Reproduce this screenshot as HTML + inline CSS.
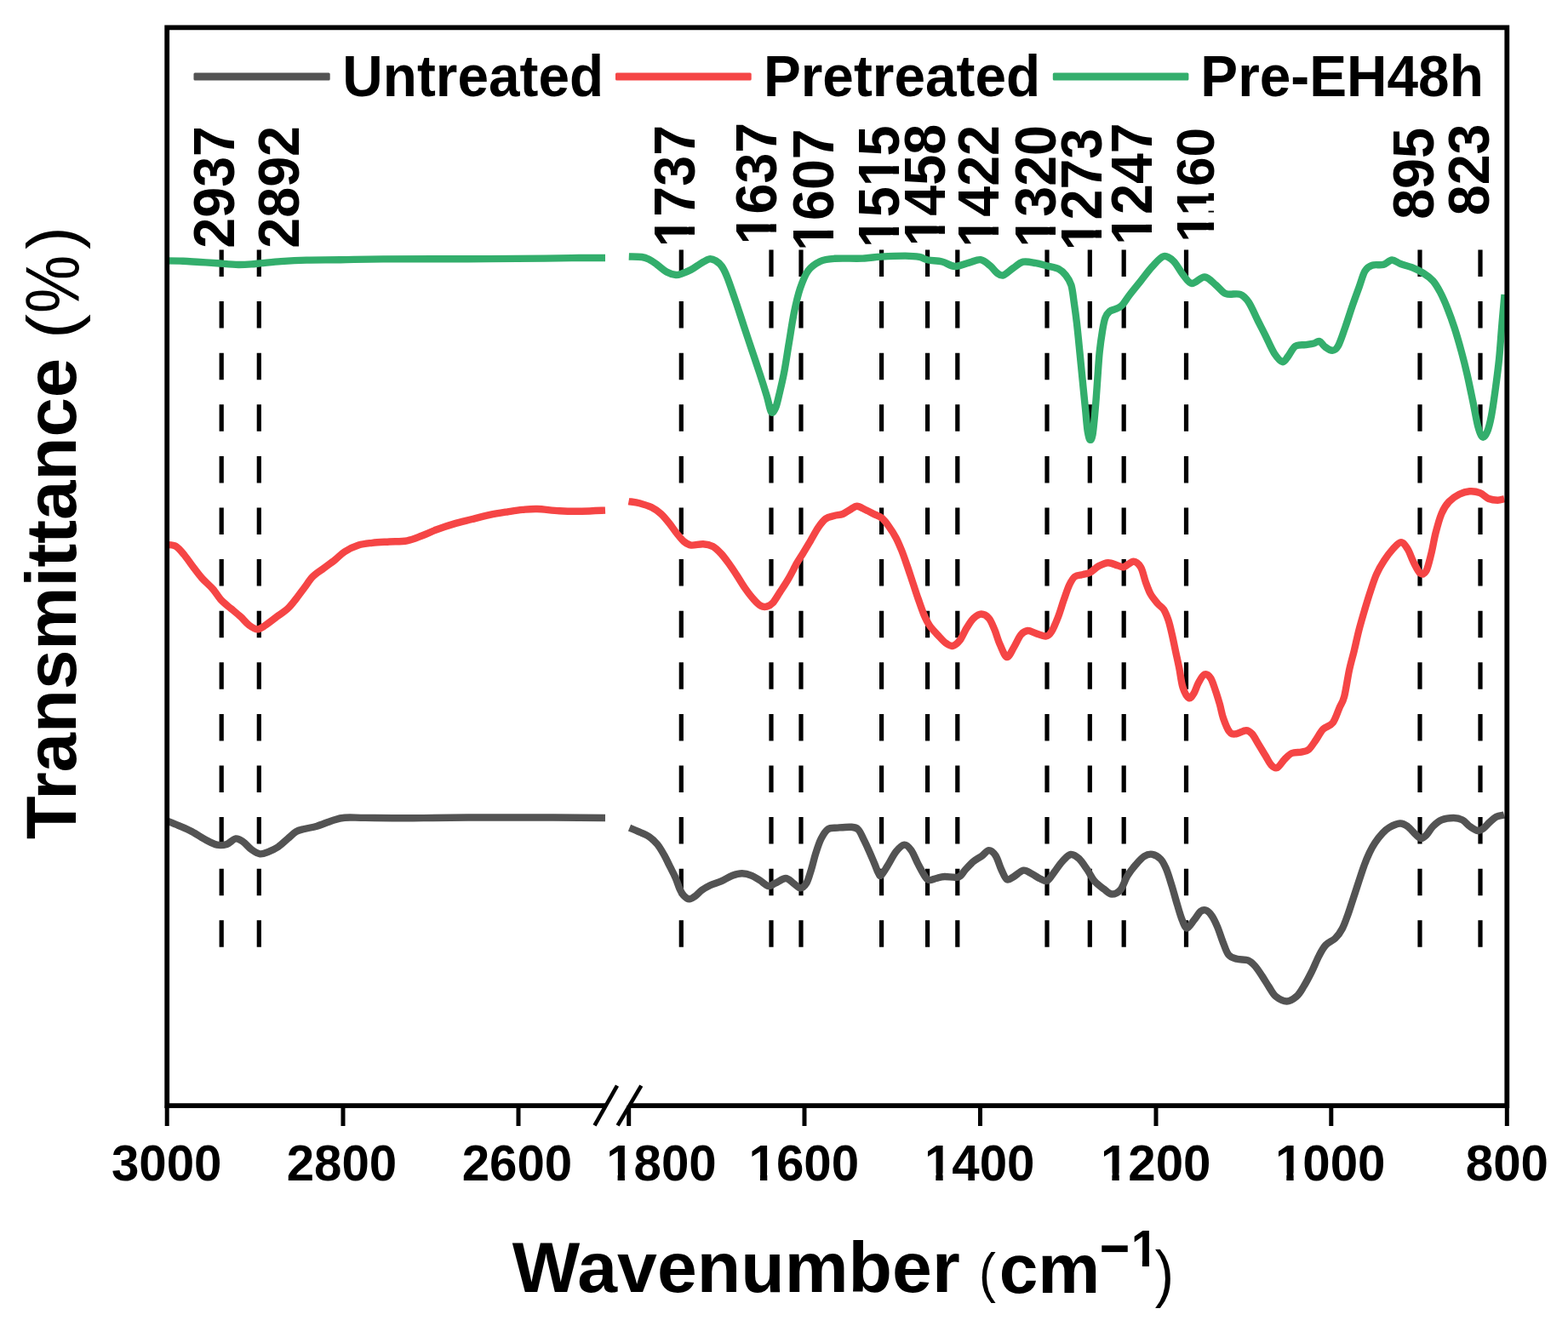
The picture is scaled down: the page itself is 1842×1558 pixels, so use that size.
<!DOCTYPE html>
<html><head><meta charset="utf-8"><title>FTIR spectra</title>
<style>
html,body{margin:0;padding:0;background:#fff;}
body{width:1842px;height:1558px;overflow:hidden;}
svg{display:block;}
.b{font-family:"Liberation Sans",Arial,sans-serif;font-weight:bold;fill:#000;}
.r{font-family:"Liberation Sans",Arial,sans-serif;font-weight:normal;fill:#000;}
</style></head><body>
<svg width="1842" height="1558" viewBox="0 0 1842 1558">
<rect x="0" y="0" width="1842" height="1558" fill="#fff"/>
<defs><mask id="mp1737" maskUnits="userSpaceOnUse" maskContentUnits="userSpaceOnUse" x="-20" y="-78.0" width="184.6" height="104.0"><rect x="-20" y="-78.0" width="184.6" height="104.0" fill="#fff"/><rect x="2.59" y="-9.13" width="12.43" height="12.13" fill="#000"/><rect x="24.24" y="-9.13" width="11.60" height="12.13" fill="#000"/></mask><mask id="mp1637" maskUnits="userSpaceOnUse" maskContentUnits="userSpaceOnUse" x="-20" y="-78.0" width="184.6" height="104.0"><rect x="-20" y="-78.0" width="184.6" height="104.0" fill="#fff"/><rect x="2.59" y="-9.13" width="12.43" height="12.13" fill="#000"/><rect x="24.24" y="-9.13" width="11.60" height="12.13" fill="#000"/></mask><mask id="mp1607" maskUnits="userSpaceOnUse" maskContentUnits="userSpaceOnUse" x="-20" y="-78.0" width="184.6" height="104.0"><rect x="-20" y="-78.0" width="184.6" height="104.0" fill="#fff"/><rect x="2.59" y="-9.13" width="12.43" height="12.13" fill="#000"/><rect x="24.24" y="-9.13" width="11.60" height="12.13" fill="#000"/></mask><mask id="mp1515" maskUnits="userSpaceOnUse" maskContentUnits="userSpaceOnUse" x="-20" y="-78.0" width="184.6" height="104.0"><rect x="-20" y="-78.0" width="184.6" height="104.0" fill="#fff"/><rect x="2.59" y="-9.13" width="12.43" height="12.13" fill="#000"/><rect x="24.24" y="-9.13" width="11.60" height="12.13" fill="#000"/><rect x="74.89" y="-9.13" width="12.43" height="12.13" fill="#000"/><rect x="96.54" y="-9.13" width="11.60" height="12.13" fill="#000"/></mask><mask id="mp1458" maskUnits="userSpaceOnUse" maskContentUnits="userSpaceOnUse" x="-20" y="-78.0" width="184.6" height="104.0"><rect x="-20" y="-78.0" width="184.6" height="104.0" fill="#fff"/><rect x="2.59" y="-9.13" width="12.43" height="12.13" fill="#000"/><rect x="24.24" y="-9.13" width="11.60" height="12.13" fill="#000"/></mask><mask id="mp1422" maskUnits="userSpaceOnUse" maskContentUnits="userSpaceOnUse" x="-20" y="-78.0" width="184.6" height="104.0"><rect x="-20" y="-78.0" width="184.6" height="104.0" fill="#fff"/><rect x="2.59" y="-9.13" width="12.43" height="12.13" fill="#000"/><rect x="24.24" y="-9.13" width="11.60" height="12.13" fill="#000"/></mask><mask id="mp1320" maskUnits="userSpaceOnUse" maskContentUnits="userSpaceOnUse" x="-20" y="-78.0" width="184.6" height="104.0"><rect x="-20" y="-78.0" width="184.6" height="104.0" fill="#fff"/><rect x="2.59" y="-9.13" width="12.43" height="12.13" fill="#000"/><rect x="24.24" y="-9.13" width="11.60" height="12.13" fill="#000"/></mask><mask id="mp1273" maskUnits="userSpaceOnUse" maskContentUnits="userSpaceOnUse" x="-20" y="-78.0" width="184.6" height="104.0"><rect x="-20" y="-78.0" width="184.6" height="104.0" fill="#fff"/><rect x="2.59" y="-9.13" width="12.43" height="12.13" fill="#000"/><rect x="24.24" y="-9.13" width="11.60" height="12.13" fill="#000"/></mask><mask id="mp1247" maskUnits="userSpaceOnUse" maskContentUnits="userSpaceOnUse" x="-20" y="-78.0" width="184.6" height="104.0"><rect x="-20" y="-78.0" width="184.6" height="104.0" fill="#fff"/><rect x="2.59" y="-9.13" width="12.43" height="12.13" fill="#000"/><rect x="24.24" y="-9.13" width="11.60" height="12.13" fill="#000"/></mask><mask id="mp1160" maskUnits="userSpaceOnUse" maskContentUnits="userSpaceOnUse" x="-20" y="-78.0" width="184.6" height="104.0"><rect x="-20" y="-78.0" width="184.6" height="104.0" fill="#fff"/><rect x="2.59" y="-9.13" width="12.43" height="12.13" fill="#000"/><rect x="24.24" y="-9.13" width="11.60" height="12.13" fill="#000"/><rect x="38.74" y="-9.13" width="12.43" height="12.13" fill="#000"/><rect x="60.39" y="-9.13" width="11.60" height="12.13" fill="#000"/></mask><mask id="mt1800" maskUnits="userSpaceOnUse" maskContentUnits="userSpaceOnUse" x="-20" y="-69.6" width="169.0" height="92.8"><rect x="-20" y="-69.6" width="169.0" height="92.8" fill="#fff"/><rect x="2.15" y="-8.42" width="11.23" height="11.42" fill="#000"/><rect x="21.65" y="-8.42" width="10.50" height="11.42" fill="#000"/></mask><mask id="mt1600" maskUnits="userSpaceOnUse" maskContentUnits="userSpaceOnUse" x="-20" y="-69.6" width="169.0" height="92.8"><rect x="-20" y="-69.6" width="169.0" height="92.8" fill="#fff"/><rect x="2.15" y="-8.42" width="11.23" height="11.42" fill="#000"/><rect x="21.65" y="-8.42" width="10.50" height="11.42" fill="#000"/></mask><mask id="mt1400" maskUnits="userSpaceOnUse" maskContentUnits="userSpaceOnUse" x="-20" y="-69.6" width="169.0" height="92.8"><rect x="-20" y="-69.6" width="169.0" height="92.8" fill="#fff"/><rect x="2.15" y="-8.42" width="11.23" height="11.42" fill="#000"/><rect x="21.65" y="-8.42" width="10.50" height="11.42" fill="#000"/></mask><mask id="mt1200" maskUnits="userSpaceOnUse" maskContentUnits="userSpaceOnUse" x="-20" y="-69.6" width="169.0" height="92.8"><rect x="-20" y="-69.6" width="169.0" height="92.8" fill="#fff"/><rect x="2.15" y="-8.42" width="11.23" height="11.42" fill="#000"/><rect x="21.65" y="-8.42" width="10.50" height="11.42" fill="#000"/></mask><mask id="mt1000" maskUnits="userSpaceOnUse" maskContentUnits="userSpaceOnUse" x="-20" y="-69.6" width="169.0" height="92.8"><rect x="-20" y="-69.6" width="169.0" height="92.8" fill="#fff"/><rect x="2.15" y="-8.42" width="11.23" height="11.42" fill="#000"/><rect x="21.65" y="-8.42" width="10.50" height="11.42" fill="#000"/></mask><mask id="mxt5" maskUnits="userSpaceOnUse" maskContentUnits="userSpaceOnUse" x="-20" y="-74.4" width="74.5" height="99.2"><rect x="-20" y="-74.4" width="74.5" height="99.2" fill="#fff"/><rect x="2.41" y="-8.83" width="11.92" height="11.83" fill="#000"/><rect x="23.13" y="-8.83" width="11.13" height="11.83" fill="#000"/></mask></defs>
<line x1="260.2" y1="293.5" x2="260.2" y2="1113.5" stroke="#000" stroke-width="5.2" stroke-dasharray="31.5 29.1"/>
<line x1="304.3" y1="293.5" x2="304.3" y2="1113.5" stroke="#000" stroke-width="5.2" stroke-dasharray="31.5 29.1"/>
<line x1="800.3" y1="293.5" x2="800.3" y2="1113.5" stroke="#000" stroke-width="5.2" stroke-dasharray="31.5 29.1"/>
<line x1="906.0" y1="293.5" x2="906.0" y2="1113.5" stroke="#000" stroke-width="5.2" stroke-dasharray="31.5 29.1"/>
<line x1="941.0" y1="293.5" x2="941.0" y2="1113.5" stroke="#000" stroke-width="5.2" stroke-dasharray="31.5 29.1"/>
<line x1="1035.6" y1="293.5" x2="1035.6" y2="1113.5" stroke="#000" stroke-width="5.2" stroke-dasharray="31.5 29.1"/>
<line x1="1089.6" y1="293.5" x2="1089.6" y2="1113.5" stroke="#000" stroke-width="5.2" stroke-dasharray="31.5 29.1"/>
<line x1="1124.8" y1="293.5" x2="1124.8" y2="1113.5" stroke="#000" stroke-width="5.2" stroke-dasharray="31.5 29.1"/>
<line x1="1230.0" y1="293.5" x2="1230.0" y2="1113.5" stroke="#000" stroke-width="5.2" stroke-dasharray="31.5 29.1"/>
<line x1="1280.3" y1="293.5" x2="1280.3" y2="1113.5" stroke="#000" stroke-width="5.2" stroke-dasharray="31.5 29.1"/>
<line x1="1320.2" y1="293.5" x2="1320.2" y2="1113.5" stroke="#000" stroke-width="5.2" stroke-dasharray="31.5 29.1"/>
<line x1="1393.5" y1="293.5" x2="1393.5" y2="1113.5" stroke="#000" stroke-width="5.2" stroke-dasharray="31.5 29.1"/>
<line x1="1668.0" y1="293.5" x2="1668.0" y2="1113.5" stroke="#000" stroke-width="5.2" stroke-dasharray="31.5 29.1"/>
<line x1="1739.0" y1="293.5" x2="1739.0" y2="1113.5" stroke="#000" stroke-width="5.2" stroke-dasharray="31.5 29.1"/>
<path d="M196.0,964.5C198.2,965.4 204.5,967.8 209.4,969.9C214.3,972.0 220.3,974.4 225.7,977.2C231.1,980.1 237.1,984.4 242.0,987.0C246.9,989.6 250.9,991.9 255.0,992.7C259.1,993.5 262.7,993.1 266.4,991.9C270.1,990.7 273.7,985.8 277.0,985.4C280.3,985.0 282.9,987.2 286.0,989.4C289.1,991.6 292.4,996.1 295.7,998.4C298.9,1000.7 302.2,1002.9 305.5,1003.3C308.8,1003.7 311.8,1002.2 315.3,1000.8C318.8,999.4 322.9,997.7 326.7,995.1C330.5,992.5 334.6,988.4 338.1,985.4C341.6,982.4 344.6,979.1 347.9,977.2C351.1,975.3 353.5,975.1 357.6,974.0C361.7,972.9 366.9,972.3 372.3,970.7C377.7,969.1 384.8,965.9 390.2,964.2C395.6,962.6 398.4,961.3 404.9,960.8C411.4,960.2 415.9,960.8 429.3,960.9C442.7,961.0 464.9,961.3 485.0,961.2C505.1,961.1 522.5,960.6 550.0,960.5C577.5,960.4 623.2,960.4 650.0,960.5C676.8,960.6 700.8,960.9 711.0,961.0" fill="none" stroke="#535353" stroke-width="8.4" stroke-linejoin="round" stroke-linecap="butt"/>
<path d="M739.5,972.6C741.7,973.5 748.9,976.5 752.8,978.3C756.6,980.1 759.4,980.9 762.6,983.2C765.9,985.5 769.3,988.5 772.3,992.1C775.3,995.8 778.0,1000.8 780.5,1005.1C783.0,1009.5 784.8,1013.9 787.0,1018.2C789.2,1022.6 791.6,1026.9 793.5,1031.2C795.4,1035.5 796.8,1040.7 798.4,1044.2C800.0,1047.7 801.4,1050.4 803.3,1052.4C805.2,1054.4 807.6,1056.3 809.8,1056.4C812.0,1056.5 813.8,1055.0 816.3,1053.2C818.8,1051.5 821.5,1048.1 824.5,1045.9C827.5,1043.7 830.4,1042.0 834.2,1040.2C838.0,1038.4 842.9,1037.2 847.3,1035.3C851.6,1033.4 856.2,1030.3 860.3,1028.8C864.4,1027.3 867.9,1026.3 871.7,1026.3C875.5,1026.3 879.6,1027.4 883.1,1028.8C886.6,1030.2 889.6,1032.5 892.9,1034.5C896.1,1036.5 899.6,1040.5 902.6,1041.0C905.6,1041.5 907.4,1039.2 910.8,1037.7C914.2,1036.2 919.5,1032.0 923.0,1032.0C926.5,1032.0 929.1,1035.8 932.0,1037.7C934.9,1039.6 937.5,1043.4 940.1,1043.4C942.7,1043.4 945.2,1041.4 947.4,1037.7C949.6,1034.0 951.3,1027.1 953.1,1021.4C954.9,1015.7 956.1,1009.5 958.0,1003.5C959.9,997.5 962.0,990.5 964.5,985.6C967.0,980.7 969.4,976.4 972.7,974.2C976.0,972.0 979.5,973.0 984.1,972.6C988.7,972.2 996.3,971.4 1000.4,971.8C1004.5,972.2 1006.1,972.4 1008.5,975.0C1010.9,977.6 1012.9,983.0 1015.0,987.2C1017.1,991.4 1019.0,995.5 1021.0,1000.0C1023.0,1004.5 1025.2,1009.8 1027.0,1014.0C1028.8,1018.2 1030.2,1022.6 1031.5,1025.0C1032.8,1027.4 1033.1,1029.8 1035.0,1028.5C1036.9,1027.2 1039.9,1021.6 1042.8,1017.0C1045.7,1012.4 1049.3,1004.8 1052.6,1000.7C1055.8,996.6 1059.3,992.9 1062.3,992.6C1065.3,992.3 1067.8,995.3 1070.5,999.1C1073.2,1002.9 1075.9,1010.2 1078.6,1015.4C1081.3,1020.5 1084.6,1026.9 1086.8,1030.0C1089.0,1033.1 1089.5,1033.8 1091.7,1034.1C1093.9,1034.4 1097.0,1032.7 1100.0,1032.0C1103.0,1031.3 1105.3,1030.2 1109.6,1030.0C1113.9,1029.8 1121.8,1031.8 1125.9,1030.5C1130.0,1029.2 1131.0,1025.0 1134.0,1021.9C1137.0,1018.8 1140.5,1014.8 1143.8,1012.1C1147.1,1009.4 1150.6,1007.8 1153.6,1005.6C1156.6,1003.4 1159.0,999.1 1161.7,999.1C1164.4,999.1 1167.3,1001.8 1169.8,1005.6C1172.2,1009.4 1174.2,1017.3 1176.4,1021.9C1178.6,1026.5 1180.5,1032.0 1182.9,1033.3C1185.3,1034.6 1187.8,1031.8 1191.0,1030.0C1194.2,1028.2 1198.9,1023.2 1202.4,1022.7C1205.9,1022.2 1208.9,1025.2 1212.2,1026.8C1215.5,1028.4 1219.0,1031.2 1222.0,1032.5C1225.0,1033.8 1227.4,1036.1 1230.1,1034.9C1232.8,1033.7 1235.2,1028.9 1238.2,1025.1C1241.2,1021.3 1244.7,1015.6 1248.0,1012.1C1251.3,1008.6 1254.5,1004.5 1257.8,1004.0C1261.1,1003.5 1264.3,1005.9 1267.6,1008.9C1270.8,1011.9 1274.3,1017.6 1277.3,1021.9C1280.3,1026.2 1282.2,1031.1 1285.5,1034.9C1288.8,1038.7 1293.5,1042.1 1296.9,1044.7C1300.3,1047.3 1302.8,1050.4 1306.0,1050.5C1309.2,1050.6 1313.2,1049.0 1316.3,1045.4C1319.4,1041.8 1321.4,1034.0 1324.4,1029.1C1327.4,1024.2 1330.9,1019.9 1334.2,1016.1C1337.5,1012.3 1340.8,1008.3 1344.0,1006.3C1347.2,1004.2 1350.5,1003.3 1353.7,1003.8C1357.0,1004.3 1360.8,1006.6 1363.5,1009.5C1366.2,1012.4 1367.8,1015.7 1370.0,1020.9C1372.2,1026.1 1374.3,1033.4 1376.5,1040.5C1378.7,1047.6 1381.0,1056.5 1383.1,1063.3C1385.1,1070.1 1386.9,1076.7 1388.8,1081.2C1390.7,1085.7 1392.2,1090.5 1394.5,1090.5C1396.8,1090.5 1399.9,1084.5 1402.6,1081.2C1405.3,1077.9 1408.2,1072.5 1410.7,1070.6C1413.2,1068.7 1415.1,1068.8 1417.3,1069.8C1419.5,1070.8 1421.6,1073.0 1423.8,1076.3C1426.0,1079.5 1428.1,1084.1 1430.3,1089.3C1432.5,1094.5 1434.6,1101.9 1436.8,1107.3C1439.0,1112.7 1440.6,1118.7 1443.3,1121.9C1446.0,1125.2 1449.3,1125.7 1453.1,1126.8C1456.9,1127.9 1462.6,1127.0 1466.1,1128.4C1469.6,1129.8 1471.6,1132.0 1474.3,1135.0C1477.0,1138.0 1479.7,1142.3 1482.4,1146.4C1485.1,1150.5 1487.9,1155.3 1490.6,1159.4C1493.3,1163.5 1495.2,1168.0 1498.7,1170.8C1502.2,1173.6 1507.6,1176.5 1511.7,1176.5C1515.8,1176.5 1519.8,1173.6 1523.1,1170.8C1526.4,1168.0 1528.3,1164.3 1531.3,1159.4C1534.3,1154.5 1538.0,1147.5 1541.0,1141.5C1544.0,1135.5 1546.5,1128.8 1549.2,1123.6C1551.9,1118.4 1554.0,1114.0 1557.3,1110.5C1560.5,1107.0 1565.4,1105.7 1568.7,1102.4C1572.0,1099.2 1574.5,1095.6 1576.9,1091.0C1579.4,1086.4 1581.2,1080.7 1583.4,1074.7C1585.6,1068.7 1586.7,1064.7 1589.9,1055.1C1593.1,1045.5 1599.2,1026.2 1602.4,1017.3C1605.6,1008.4 1606.7,1006.4 1608.8,1001.9C1610.9,997.4 1612.6,994.1 1615.2,990.3C1617.8,986.4 1621.4,981.8 1624.2,978.8C1627.0,975.8 1628.5,974.2 1631.9,972.3C1635.3,970.4 1641.1,967.7 1644.7,967.5C1648.3,967.3 1650.7,969.0 1653.7,971.1C1656.7,973.2 1660.1,977.8 1662.7,980.1C1665.3,982.4 1667.0,984.8 1669.1,985.0C1671.2,985.2 1673.2,983.6 1675.5,981.3C1677.8,979.0 1680.2,974.1 1683.2,971.1C1686.2,968.1 1689.4,965.1 1693.5,963.4C1697.6,961.7 1703.5,961.0 1707.6,961.0C1711.7,961.0 1714.7,961.7 1717.9,963.4C1721.1,965.1 1723.9,969.0 1726.9,971.1C1729.9,973.2 1733.3,975.6 1735.9,976.0C1738.5,976.4 1740.0,975.3 1742.3,973.6C1744.6,971.9 1747.4,968.3 1750.0,966.0C1752.6,963.7 1754.9,961.2 1757.7,959.8C1760.5,958.4 1765.5,957.9 1767.0,957.5" fill="none" stroke="#535353" stroke-width="8.4" stroke-linejoin="round" stroke-linecap="butt"/>
<path d="M196.0,640.0C197.7,640.3 202.9,639.8 206.2,641.7C209.5,643.6 212.8,647.6 216.0,651.4C219.2,655.2 222.2,659.9 225.7,664.5C229.2,669.1 233.0,674.5 237.1,679.1C241.2,683.7 246.3,687.8 250.1,692.1C253.9,696.5 256.4,701.4 259.9,705.2C263.4,709.0 267.5,711.8 271.3,715.0C275.1,718.2 279.2,721.5 282.7,724.7C286.2,728.0 289.2,732.0 292.5,734.5C295.8,737.0 299.1,739.4 302.3,739.4C305.6,739.4 308.2,737.0 312.0,734.5C315.8,732.0 320.8,728.0 325.1,724.7C329.5,721.5 334.3,718.5 338.1,715.0C341.9,711.5 344.6,707.6 347.9,703.5C351.1,699.4 354.4,694.8 357.6,690.5C360.9,686.2 363.6,681.3 367.4,677.5C371.2,673.7 376.0,671.0 380.4,667.7C384.8,664.4 389.4,661.1 393.5,657.9C397.6,654.6 400.3,651.1 404.9,648.2C409.5,645.3 415.8,642.2 421.2,640.5C426.6,638.8 431.4,638.5 437.4,637.8C443.4,637.1 450.6,636.9 457.4,636.5C464.2,636.1 471.8,636.5 478.2,635.3C484.6,634.1 489.8,631.7 495.6,629.5C501.4,627.3 506.6,624.6 513.0,622.3C519.4,619.9 526.8,617.4 533.8,615.4C540.8,613.4 547.8,611.8 554.7,610.0C561.7,608.2 568.5,606.4 575.5,604.9C582.5,603.4 590.0,602.3 596.4,601.3C602.8,600.3 607.9,599.4 613.7,598.9C619.5,598.4 623.9,597.8 631.1,598.0C638.4,598.2 648.5,599.8 657.2,600.2C665.9,600.7 674.2,600.8 683.2,600.7C692.2,600.6 706.4,599.8 711.0,599.6" fill="none" stroke="#f54545" stroke-width="8.4" stroke-linejoin="round" stroke-linecap="butt"/>
<path d="M738.5,589.1C740.6,589.5 746.7,590.0 751.2,591.2C755.7,592.4 761.1,594.0 765.3,596.1C769.5,598.2 773.1,600.7 776.6,603.9C780.1,607.1 783.5,611.4 786.5,615.2C789.5,619.0 792.1,623.0 794.9,626.5C797.7,630.0 800.6,633.9 803.4,636.3C806.2,638.6 808.1,640.1 811.9,640.6C815.7,641.1 821.8,639.0 826.0,639.2C830.2,639.4 833.8,640.1 837.3,642.0C840.8,643.9 843.8,647.0 847.1,650.5C850.4,654.0 853.9,659.0 857.0,663.2C860.1,667.4 862.4,671.2 865.5,675.9C868.6,680.6 872.1,686.7 875.4,691.4C878.7,696.1 882.2,700.7 885.3,704.1C888.3,707.5 891.1,710.4 893.7,711.8C896.3,713.2 898.4,713.2 900.8,712.6C903.1,712.0 905.2,711.1 907.8,708.3C910.4,705.5 913.2,700.3 916.3,695.6C919.4,690.9 922.9,685.8 926.2,680.1C929.5,674.5 933.3,666.6 936.1,661.7C938.9,656.8 940.5,654.7 943.1,650.5C945.7,646.3 948.5,641.5 951.6,636.3C954.7,631.1 958.4,623.9 961.5,619.4C964.6,614.9 966.9,611.7 970.0,609.5C973.1,607.3 976.7,606.9 980.0,606.0C983.3,605.1 986.9,605.2 990.0,604.0C993.1,602.8 995.6,600.5 998.4,599.0C1001.2,597.5 1003.8,594.7 1006.8,594.7C1009.8,594.7 1013.4,597.5 1016.7,599.0C1020.0,600.5 1023.3,602.3 1026.6,604.0C1029.9,605.7 1033.3,606.6 1036.3,609.1C1039.3,611.6 1041.7,615.1 1044.4,618.9C1047.1,622.7 1050.1,627.3 1052.6,631.9C1055.0,636.5 1056.9,641.1 1059.1,646.5C1061.3,651.9 1063.4,658.2 1065.6,664.5C1067.8,670.8 1069.9,677.5 1072.1,684.0C1074.3,690.5 1076.4,697.2 1078.6,703.5C1080.8,709.8 1082.9,716.3 1085.1,721.5C1087.3,726.7 1089.0,730.4 1091.7,734.5C1094.4,738.6 1098.2,742.4 1101.4,745.9C1104.7,749.4 1108.2,753.5 1111.2,755.7C1114.2,757.9 1116.6,759.5 1119.3,758.9C1122.0,758.3 1124.8,755.9 1127.5,752.4C1130.2,748.9 1132.9,742.1 1135.6,737.8C1138.3,733.5 1140.9,729.1 1143.8,726.4C1146.7,723.7 1149.7,721.5 1152.7,721.5C1155.7,721.5 1159.1,723.4 1161.7,726.4C1164.3,729.4 1166.0,734.2 1168.2,739.4C1170.4,744.5 1172.2,751.9 1174.7,757.3C1177.2,762.7 1180.2,771.5 1182.9,772.0C1185.6,772.5 1188.3,765.0 1191.0,760.6C1193.7,756.2 1196.5,749.2 1199.2,745.9C1201.9,742.6 1204.3,741.3 1207.3,741.0C1210.3,740.7 1213.6,743.2 1217.1,744.3C1220.6,745.4 1225.5,747.8 1228.5,747.5C1231.5,747.2 1232.6,746.4 1235.0,742.6C1237.4,738.8 1240.7,730.9 1243.1,724.7C1245.5,718.5 1247.4,711.4 1249.6,705.2C1251.8,699.0 1254.0,691.9 1256.2,687.3C1258.4,682.7 1260.0,679.5 1262.7,677.5C1265.4,675.5 1269.4,675.8 1272.4,675.0C1275.4,674.2 1277.6,674.2 1280.6,672.6C1283.6,671.0 1286.9,667.2 1290.4,665.3C1293.9,663.4 1298.0,661.3 1301.8,661.2C1305.6,661.1 1310.1,663.7 1313.2,664.5C1316.3,665.3 1317.3,666.9 1320.4,666.1C1323.5,665.3 1328.4,659.6 1331.7,659.7C1335.0,659.8 1337.9,662.7 1340.2,666.7C1342.5,670.7 1343.9,678.5 1345.8,683.7C1347.7,688.9 1349.2,693.6 1351.5,697.8C1353.8,702.0 1357.3,706.0 1359.9,709.1C1362.5,712.2 1364.9,712.8 1367.0,716.1C1369.1,719.4 1370.9,724.0 1372.6,728.9C1374.2,733.8 1375.5,739.7 1376.9,745.8C1378.3,751.9 1379.7,759.0 1381.1,765.6C1382.5,772.2 1383.9,778.2 1385.3,785.3C1386.7,792.3 1387.7,802.1 1389.6,807.9C1391.5,813.7 1394.5,818.8 1396.6,820.0C1398.7,821.2 1400.4,818.0 1402.3,815.0C1404.2,812.0 1405.8,806.1 1407.9,802.3C1410.0,798.5 1412.6,793.3 1415.0,792.4C1417.4,791.5 1420.0,793.5 1422.1,796.6C1424.2,799.7 1425.9,805.7 1427.7,810.8C1429.5,815.9 1431.2,821.6 1432.8,827.1C1434.4,832.6 1435.2,838.6 1437.1,844.0C1439.0,849.4 1441.8,856.5 1444.1,859.6C1446.4,862.7 1447.9,862.6 1451.2,862.4C1454.5,862.2 1460.6,858.2 1463.9,858.2C1467.2,858.2 1468.7,859.8 1471.0,862.4C1473.3,865.0 1475.4,869.5 1478.0,873.7C1480.6,877.9 1483.9,883.6 1486.5,887.8C1489.1,892.0 1491.2,896.8 1493.6,899.1C1495.9,901.5 1498.0,903.1 1500.6,901.9C1503.2,900.7 1506.3,894.9 1509.1,892.1C1511.9,889.3 1514.3,886.4 1517.6,885.0C1520.9,883.6 1525.6,884.3 1528.9,883.6C1532.2,882.9 1534.5,883.1 1537.3,880.8C1540.1,878.4 1543.0,873.5 1545.8,869.5C1548.6,865.5 1551.0,860.2 1554.3,856.8C1557.6,853.4 1562.5,853.4 1565.7,849.2C1568.9,845.0 1571.2,836.9 1573.4,831.8C1575.7,826.6 1577.3,825.7 1579.2,818.3C1581.1,810.9 1583.1,796.5 1585.0,787.5C1586.9,778.5 1588.9,772.3 1590.8,764.4C1592.7,756.5 1594.4,748.1 1596.5,740.0C1598.6,731.9 1601.0,723.8 1603.3,716.0C1605.6,708.2 1608.0,700.4 1610.3,693.5C1612.6,686.6 1614.6,680.2 1617.2,674.4C1619.8,668.6 1622.7,663.7 1625.9,658.8C1629.1,653.9 1633.0,648.6 1636.3,645.0C1639.6,641.4 1642.9,637.2 1645.8,637.2C1648.7,637.2 1651.1,641.1 1653.6,645.0C1656.1,648.9 1658.1,655.8 1660.6,660.6C1663.1,665.4 1666.0,671.9 1668.4,673.6C1670.9,675.3 1673.1,674.9 1675.3,671.0C1677.5,667.1 1679.5,657.7 1681.4,650.2C1683.3,642.7 1684.6,633.7 1686.6,625.9C1688.6,618.1 1690.9,609.4 1693.5,603.3C1696.1,597.2 1698.7,593.2 1702.2,589.5C1705.7,585.8 1710.3,582.8 1714.3,580.8C1718.3,578.8 1722.4,577.6 1726.4,577.3C1730.5,577.0 1734.8,577.6 1738.6,579.1C1742.4,580.6 1745.5,584.6 1749.0,586.0C1752.5,587.4 1756.4,587.7 1759.4,587.7C1762.4,587.7 1765.9,586.3 1767.2,586.0" fill="none" stroke="#f54545" stroke-width="8.4" stroke-linejoin="round" stroke-linecap="butt"/>
<path d="M196.0,306.4C199.2,306.4 208.5,306.4 215.0,306.7C221.5,307.0 228.3,307.6 235.0,308.0C241.7,308.4 247.5,308.8 255.0,309.3C262.5,309.8 272.5,310.9 280.0,311.0C287.5,311.1 291.7,310.6 300.0,310.0C308.3,309.4 320.0,307.8 330.0,307.1C340.0,306.4 348.3,305.9 360.0,305.6C371.7,305.3 385.0,305.4 400.0,305.2C415.0,305.0 425.0,304.6 450.0,304.4C475.0,304.2 518.3,304.3 550.0,304.2C581.7,304.1 618.3,303.8 640.0,303.6C661.7,303.4 668.2,303.1 680.0,303.0C691.8,302.9 705.8,303.0 711.0,303.0" fill="none" stroke="#33ae6c" stroke-width="8.4" stroke-linejoin="round" stroke-linecap="butt"/>
<path d="M738.8,301.5C741.3,301.6 750.1,301.5 754.0,302.0C757.9,302.5 759.1,303.1 762.0,304.5C764.9,305.9 767.8,308.0 771.3,310.5C774.8,313.0 779.3,317.4 783.1,319.5C786.9,321.6 791.0,322.7 794.0,323.0C797.0,323.3 798.1,322.5 801.0,321.5C803.9,320.5 807.9,319.0 811.6,317.0C815.4,315.0 819.9,311.4 823.5,309.3C827.1,307.2 830.6,304.8 833.5,304.3C836.4,303.8 838.6,305.1 841.0,306.5C843.4,307.9 845.8,309.8 848.0,313.0C850.2,316.2 851.8,319.3 854.4,326.0C857.0,332.7 860.7,343.7 863.9,353.0C867.1,362.3 870.2,372.2 873.4,381.8C876.6,391.4 879.7,400.8 882.9,410.3C886.1,419.8 889.4,429.7 892.4,438.8C895.4,447.9 898.4,457.4 900.7,464.9C903.0,472.4 904.3,481.6 906.0,484.0C907.7,486.4 909.5,482.7 911.0,479.5C912.5,476.3 913.4,471.8 915.0,465.0C916.6,458.2 918.9,449.1 920.9,438.8C922.9,428.5 924.8,415.1 926.8,403.2C928.8,391.3 930.6,378.2 932.8,367.5C935.0,356.8 937.1,347.2 939.9,339.0C942.7,330.8 945.4,323.3 949.4,318.0C953.4,312.7 958.6,309.4 963.7,307.0C968.9,304.6 972.0,304.4 980.3,303.8C988.6,303.2 1004.3,304.0 1013.4,303.6C1022.5,303.2 1026.7,302.1 1035.0,301.6C1043.3,301.1 1055.9,300.6 1063.4,300.6C1070.9,300.7 1075.6,301.1 1080.1,301.9C1084.5,302.7 1085.6,304.6 1090.1,305.5C1094.5,306.4 1101.5,306.2 1106.8,307.5C1112.1,308.8 1116.5,312.8 1121.8,313.0C1127.1,313.2 1133.5,309.9 1138.5,308.6C1143.5,307.3 1147.7,304.6 1151.9,305.2C1156.1,305.8 1160.3,309.9 1163.5,312.5C1166.7,315.1 1168.5,318.7 1171.0,320.5C1173.5,322.3 1175.4,324.3 1178.6,323.4C1181.8,322.5 1186.3,317.6 1190.2,315.0C1194.1,312.4 1197.5,308.7 1201.9,307.7C1206.4,306.7 1212.2,308.4 1216.9,309.2C1221.6,310.0 1225.8,311.4 1230.3,312.5C1234.8,313.6 1240.0,314.2 1243.6,316.0C1247.2,317.8 1249.5,320.2 1252.0,323.4C1254.5,326.6 1256.8,329.7 1258.4,335.0C1260.0,340.3 1260.6,347.6 1261.7,355.1C1262.8,362.6 1263.9,370.4 1265.0,380.1C1266.1,389.8 1267.3,402.4 1268.4,413.5C1269.5,424.6 1270.6,435.8 1271.7,446.9C1272.8,458.0 1274.0,470.5 1275.0,480.2C1276.0,489.9 1276.6,499.2 1277.5,505.3C1278.4,511.4 1279.2,515.5 1280.2,516.5C1281.2,517.5 1282.4,517.0 1283.5,511.0C1284.6,504.9 1285.8,490.9 1286.7,480.2C1287.7,469.5 1288.4,458.0 1289.2,446.9C1290.0,435.8 1290.7,423.2 1291.7,413.5C1292.7,403.8 1294.0,395.2 1295.1,388.5C1296.2,381.8 1297.0,377.2 1298.4,373.4C1299.8,369.6 1301.2,367.7 1303.4,365.9C1305.6,364.1 1309.3,363.9 1311.8,362.6C1314.3,361.4 1315.9,361.0 1318.4,358.4C1320.9,355.8 1323.2,351.4 1326.8,346.7C1330.4,342.0 1335.6,335.7 1340.1,330.1C1344.5,324.6 1349.0,318.2 1353.5,313.4C1358.0,308.6 1362.6,302.3 1366.8,301.2C1371.0,300.1 1374.6,303.0 1378.5,306.7C1382.4,310.4 1386.6,319.0 1390.2,323.4C1393.8,327.8 1396.0,332.6 1400.2,333.0C1404.4,333.4 1410.5,325.1 1415.2,325.5C1419.9,325.9 1424.4,331.8 1428.6,335.1C1432.8,338.4 1435.5,343.3 1440.2,345.1C1444.9,346.9 1452.5,344.2 1456.9,345.9C1461.4,347.6 1463.6,350.2 1466.9,355.1C1470.2,360.0 1473.6,368.4 1476.9,375.1C1480.2,381.8 1483.7,388.4 1487.0,395.1C1490.3,401.8 1493.7,410.2 1497.0,415.2C1500.3,420.2 1504.0,424.6 1506.7,425.2C1509.4,425.8 1510.8,421.6 1513.3,418.5C1515.8,415.4 1518.3,409.0 1521.7,406.8C1525.1,404.6 1529.8,405.7 1533.4,405.1C1537.0,404.6 1540.6,404.2 1543.4,403.5C1546.2,402.8 1547.8,400.3 1550.0,401.0C1552.2,401.7 1554.2,405.8 1556.7,407.6C1559.2,409.4 1562.6,411.9 1565.1,411.8C1567.6,411.7 1569.3,411.2 1571.8,406.8C1574.3,402.4 1577.3,392.9 1580.1,385.1C1582.9,377.3 1585.6,368.2 1588.4,360.1C1591.2,352.0 1594.3,343.6 1596.8,336.7C1599.3,329.8 1601.0,322.6 1603.5,318.4C1606.0,314.2 1608.2,312.9 1611.8,311.7C1615.4,310.4 1621.2,311.9 1625.1,310.9C1629.0,309.9 1631.8,305.6 1635.2,305.5C1638.6,305.4 1641.3,308.6 1645.2,310.0C1649.1,311.4 1654.0,312.4 1658.5,314.2C1663.0,316.0 1667.7,318.2 1671.9,320.9C1676.1,323.5 1680.2,326.4 1683.5,330.1C1686.8,333.9 1689.1,338.1 1691.9,343.4C1694.7,348.7 1697.4,354.9 1700.2,361.8C1703.0,368.8 1705.8,376.5 1708.6,385.1C1711.4,393.7 1714.4,404.3 1716.9,413.5C1719.4,422.7 1721.4,430.5 1723.6,440.2C1725.8,449.9 1728.2,461.8 1730.3,471.9C1732.4,481.9 1734.3,493.6 1736.1,500.5C1737.9,507.4 1739.5,512.1 1741.3,513.3C1743.1,514.5 1745.2,511.6 1747.0,507.5C1748.8,503.4 1750.3,497.3 1752.0,488.6C1753.7,479.9 1755.5,466.3 1757.0,455.2C1758.5,444.1 1759.8,434.3 1761.1,421.8C1762.3,409.3 1763.4,392.6 1764.5,380.0C1765.6,367.4 1767.0,351.7 1767.5,346.0" fill="none" stroke="#33ae6c" stroke-width="8.4" stroke-linejoin="round" stroke-linecap="butt"/>
<path d="M196.2,1299.1 L196.2,32.4 L1770.3,32.4 L1770.3,1299.1" fill="none" stroke="#000" stroke-width="5.8" stroke-linejoin="miter" stroke-linecap="square"/>
<line x1="196.2" y1="1299.1" x2="711" y2="1299.1" stroke="#000" stroke-width="5.8"/>
<line x1="740" y1="1299.1" x2="1770.3" y2="1299.1" stroke="#000" stroke-width="5.8"/>
<line x1="698.5" y1="1322.4" x2="725" y2="1275.7" stroke="#000" stroke-width="4.6"/>
<line x1="725.6" y1="1322.4" x2="753.3" y2="1275.7" stroke="#000" stroke-width="4.6"/>
<line x1="196.2" y1="1299.1" x2="196.2" y2="1323" stroke="#000" stroke-width="5"/>
<line x1="403.0" y1="1299.1" x2="403.0" y2="1323" stroke="#000" stroke-width="5"/>
<line x1="609.0" y1="1299.1" x2="609.0" y2="1323" stroke="#000" stroke-width="5"/>
<line x1="738.7" y1="1299.1" x2="738.7" y2="1323" stroke="#000" stroke-width="5"/>
<line x1="945.0" y1="1299.1" x2="945.0" y2="1323" stroke="#000" stroke-width="5"/>
<line x1="1151.5" y1="1299.1" x2="1151.5" y2="1323" stroke="#000" stroke-width="5"/>
<line x1="1358.0" y1="1299.1" x2="1358.0" y2="1323" stroke="#000" stroke-width="5"/>
<line x1="1563.8" y1="1299.1" x2="1563.8" y2="1323" stroke="#000" stroke-width="5"/>
<line x1="1770.3" y1="1299.1" x2="1770.3" y2="1323" stroke="#000" stroke-width="5"/>
<text transform="translate(275.35,291.73) rotate(-90) scale(0.9942,1.0400)" class="b" font-size="65">2937</text>
<text transform="translate(350.90,291.73) rotate(-90) scale(0.9942,1.0400)" class="b" font-size="65">2892</text>
<text transform="translate(816.45,290.58) rotate(-90) scale(0.9942,1.0400)" class="b" font-size="65" mask="url(#mp1737)">1737</text>
<text transform="translate(912.05,287.48) rotate(-90) scale(0.9942,1.0400)" class="b" font-size="65" mask="url(#mp1637)">1637</text>
<text transform="translate(978.50,294.98) rotate(-90) scale(0.9942,1.0400)" class="b" font-size="65" mask="url(#mp1607)">1607</text>
<text transform="translate(1055.70,291.22) rotate(-90) scale(0.9942,1.0400)" class="b" font-size="65" mask="url(#mp1515)">1515</text>
<text transform="translate(1110.00,289.62) rotate(-90) scale(0.9942,1.0400)" class="b" font-size="65" mask="url(#mp1458)">1458</text>
<text transform="translate(1173.05,290.73) rotate(-90) scale(0.9942,1.0400)" class="b" font-size="65" mask="url(#mp1422)">1422</text>
<text transform="translate(1240.25,290.73) rotate(-90) scale(0.9942,1.0400)" class="b" font-size="65" mask="url(#mp1320)">1320</text>
<text transform="translate(1293.90,294.43) rotate(-90) scale(0.9942,1.0400)" class="b" font-size="65" mask="url(#mp1273)">1273</text>
<text transform="translate(1352.60,287.98) rotate(-90) scale(0.9942,1.0400)" class="b" font-size="65" mask="url(#mp1247)">1247</text>
<text transform="translate(1425.90,284.73) rotate(-90) scale(0.9567,0.9644)" class="b" font-size="65" mask="url(#mp1160)">1160</text>
<text transform="translate(1684.35,257.83) rotate(-90) scale(0.9942,1.0400)" class="b" font-size="65">895</text>
<text transform="translate(1749.30,253.24) rotate(-90) scale(0.9942,1.0400)" class="b" font-size="65">823</text>
<text transform="translate(130.94,1386.90) scale(1.0041,1.0325)" class="b" font-size="58">3000</text>
<text transform="translate(336.64,1386.90) scale(1.0041,1.0325)" class="b" font-size="58">2800</text>
<text transform="translate(542.69,1386.90) scale(1.0041,1.0325)" class="b" font-size="58">2600</text>
<text transform="translate(712.18,1386.90) scale(1.0041,1.0325)" class="b" font-size="58" mask="url(#mt1800)">1800</text>
<text transform="translate(879.53,1386.90) scale(1.0041,1.0325)" class="b" font-size="58" mask="url(#mt1600)">1600</text>
<text transform="translate(1085.93,1386.90) scale(1.0041,1.0325)" class="b" font-size="58" mask="url(#mt1400)">1400</text>
<text transform="translate(1292.98,1386.90) scale(1.0041,1.0325)" class="b" font-size="58" mask="url(#mt1200)">1200</text>
<text transform="translate(1497.88,1386.90) scale(1.0041,1.0325)" class="b" font-size="58" mask="url(#mt1000)">1000</text>
<text transform="translate(1721.85,1386.90) scale(1.0041,1.0325)" class="b" font-size="58">800</text>
<text transform="translate(402.28,112.90) scale(0.9965,1.0250)" class="b" font-size="66">Untreated</text>
<text transform="translate(896.91,112.90) scale(0.9965,1.0250)" class="b" font-size="66">Pretreated</text>
<text transform="translate(1410.28,112.95) scale(0.9965,1.0250)" class="b" font-size="66">Pre-EH48h</text>
<text transform="translate(601.80,1518.41) scale(0.9913,0.9905)" class="b" font-size="85">Wavenumber</text>
<text transform="translate(1149.88,1518.38) scale(0.9059,0.9726)" class="r" font-size="66">(</text>
<text transform="translate(1173.70,1519.24) scale(0.9652,0.9596)" class="b" font-size="85">cm</text>
<text transform="translate(1291.86,1490.93) scale(0.9806,1.1429)" class="b" font-size="62">&#8722;</text>
<text transform="translate(1328.72,1488.30) scale(0.9200,0.9905)" class="b" font-size="62" mask="url(#mxt5)">1</text>
<text transform="translate(1356.81,1522.12) scale(0.8895,0.9986)" class="r" font-size="75">)</text>
<text transform="translate(89.32,986.18) rotate(-90) scale(0.9811,0.9810)" class="b" font-size="85">Transmittance</text>
<text transform="translate(89.16,398.26) rotate(-90) scale(1.0318,0.9575)" class="r" font-size="85">(</text>
<text transform="translate(92.40,367.90) rotate(-90) scale(0.9014,1.0433)" class="r" font-size="85">%</text>
<text transform="translate(89.16,292.94) rotate(-90) scale(0.9409,0.9575)" class="r" font-size="85">)</text>
<rect x="227.5" y="85.4" width="160.2" height="9.2" rx="1.5" fill="#535353"/>
<rect x="723" y="85.4" width="159.70000000000005" height="9.2" rx="1.5" fill="#f54545"/>
<rect x="1236.8" y="85.4" width="159.60000000000014" height="9.2" rx="1.5" fill="#33ae6c"/>
</svg>
</body></html>
